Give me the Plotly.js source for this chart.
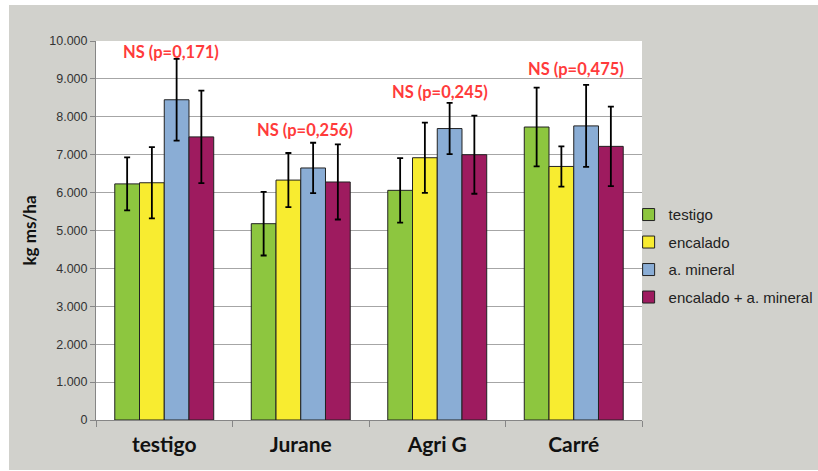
<!DOCTYPE html>
<html>
<head>
<meta charset="utf-8">
<script src="https://cdn.plot.ly/plotly-3.0.1.min.js"></script>
<style>
  html, body { margin: 0; padding: 0; background: #ffffff; width: 818px; height: 471px; overflow: hidden; }
  #wrap { position: absolute; left: 9px; top: 5px; width: 809px; height: 465px; overflow: hidden; }
  #chart { position: absolute; left: 0; top: 0; width: 830px; height: 465px; }
</style>
</head>
<body>
<div id="wrap"><div id="chart"></div></div>
<script>
const categories = ["testigo", "Jurane", "Agri G", "Carré"];
const seriesNames = ["testigo", "encalado", "a. mineral", "encalado + a. mineral"];
const testigoVals   = [6230, 5180, 6060, 7730];
const encaladoVals  = [6260, 6330, 6920, 6690];
const mineralVals   = [8450, 6650, 7690, 7760];
const encMinVals    = [7470, 6280, 7000, 7220];
const testigoErr    = [700, 840, 850, 1040];
const encaladoErr   = [940, 715, 925, 530];
const mineralErr    = [1080, 665, 675, 1080];
const encMinErr     = [1220, 990, 1030, 1050];
const pLabels = ["NS (p=0,171)", "NS (p=0,256)", "NS (p=0,245)", "NS (p=0,475)"];
const pLabelY = [9710, 7640, 8650, 9260];
const yTickVals = [0, 1000, 2000, 3000, 4000, 5000, 6000, 7000, 8000, 9000, 10000];
const yTickText = ["0", "1.000", "2.000", "3.000", "4.000", "5.000", "6.000", "7.000", "8.000", "9.000", "10.000"];

const colors = ["#8dc63f", "#f8ec30", "#8aadd5", "#9e1b5f"];
const values = [testigoVals, encaladoVals, mineralVals, encMinVals];
const errors = [testigoErr, encaladoErr, mineralErr, encMinErr];

const traces = seriesNames.map((name, i) => ({
  type: "bar",
  name: name,
  x: categories,
  y: values[i],
  legendgroup: "g" + i,
  marker: { color: colors[i], line: { color: "#222222", width: 1 } },
  error_y: { type: "data", array: errors[i], visible: true, color: "#000000", thickness: 1.8, width: 3 },
  hoverinfo: "x+y"
}));

const xShifts = [7, 4, 3, 2];
const annotations = pLabels.map((t, i) => ({
  x: categories[i], y: pLabelY[i], xref: "x", yref: "y",
  text: t, showarrow: false, xshift: xShifts[i],
  xanchor: "center", yanchor: "middle",
  font: { family: "Lato, 'Open Sans', sans-serif", size: 16.5, color: "#ff3b3b", weight: "bold" }
}));

const layout = {
  width: 830, height: 465,
  margin: { l: 87, r: 197, t: 36, b: 50 },
  paper_bgcolor: "#d1d1cc",
  plot_bgcolor: "#ffffff",
  barmode: "group",
  bargap: 0.275,
  bargroupgap: 0,
  showlegend: true,
  legend: {
    x: 0.9755, xanchor: "left", y: 0.585, yanchor: "top",
    bgcolor: "rgba(0,0,0,0)",
    font: { family: "'Liberation Sans', Arial, sans-serif", size: 15, color: "#222222" },
    traceorder: "grouped", tracegroupgap: 5, itemwidth: 30
  },
  xaxis: {
    type: "category",
    showline: true, linecolor: "#868686", linewidth: 1,
    ticks: "outside", tickson: "boundaries", ticklen: 6, tickcolor: "#868686",
    ticklabelstandoff: 6,
    tickfont: { family: "Lato, 'Open Sans', sans-serif", size: 21, color: "#111111", weight: "bold" },
    showgrid: false, zeroline: false,
    fixedrange: true
  },
  yaxis: {
    range: [0, 10000],
    tickvals: yTickVals, ticktext: yTickText,
    showline: true, linecolor: "#868686", linewidth: 1,
    ticks: "outside", ticklen: 5, tickcolor: "#868686",
    tickfont: { family: "'Liberation Sans', Arial, sans-serif", size: 12.5, color: "#333333" },
    showgrid: true, gridcolor: "#a6a6a6", gridwidth: 1,
    zeroline: false,
    title: { text: "kg ms/ha", standoff: 8,
      font: { family: "Lato, 'Open Sans', sans-serif", size: 17, color: "#111111", weight: "bold" } },
    fixedrange: true
  },
  annotations: annotations
};

Plotly.newPlot("chart", traces, layout, { displayModeBar: false, staticPlot: true });
</script>
</body>
</html>
